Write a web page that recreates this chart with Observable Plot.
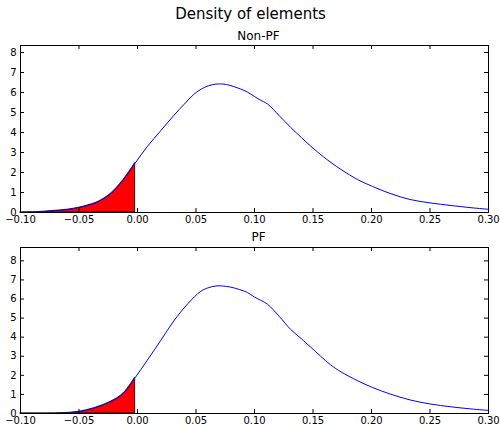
<!DOCTYPE html>
<html>
<head>
<meta charset="utf-8">
<script src="https://cdn.jsdelivr.net/npm/d3@7"></script>
<script src="https://cdn.jsdelivr.net/npm/@observablehq/plot@0.6"></script>
<style>
  html, body { margin: 0; padding: 0; background: white; }
  #wrap { position: relative; width: 501px; height: 426px; font-family: "DejaVu Sans", sans-serif; background: white; }
  .title { position: absolute; left: 0; width: 501px; text-align: center; color: #000; z-index: 5; line-height: 1.2; }
  .panel { position: absolute; left: 0; z-index: 1; }
</style>
</head>
<body>
<div id="wrap">
  <div class="panel" id="p1" style="top:0px;"></div>
  <div class="panel" id="p2" style="top:230px;"></div>
  <div class="title" style="top:5px;font-size:15px;">Density of elements</div>
  <div class="title" style="top:29px;font-size:12px;padding-left:8px;">Non-PF</div>
  <div class="title" style="top:230px;font-size:12px;padding-left:8px;">PF</div>
</div>
<script>
// Non-PF density curve (x, density)
const nonPfX = [-0.100, -0.085, -0.074, -0.060, -0.050, -0.042, -0.034, -0.023, -0.012, -0.002,
  0.008, 0.020, 0.031, 0.040, 0.048, 0.057, 0.064, 0.070, 0.076, 0.082, 0.088, 0.094, 0.100,
  0.105, 0.111, 0.121, 0.131, 0.140, 0.148, 0.159, 0.174, 0.188, 0.201, 0.216, 0.233, 0.250,
  0.268, 0.285, 0.300];
const nonPfY = [0.00, 0.02, 0.07, 0.14, 0.24, 0.36, 0.52, 0.93, 1.63, 2.47,
  3.27, 4.10, 4.85, 5.42, 5.90, 6.25, 6.39, 6.43, 6.40, 6.30, 6.18, 6.02, 5.80,
  5.62, 5.43, 4.85, 4.25, 3.75, 3.32, 2.78, 2.15, 1.65, 1.30, 0.95, 0.65, 0.48,
  0.35, 0.24, 0.16];

// PF density curve (x, density)
const pfX = [-0.100, -0.080, -0.066, -0.050, -0.037, -0.023, -0.012, -0.002,
  0.008, 0.020, 0.031, 0.043, 0.054, 0.061, 0.068, 0.079, 0.087, 0.094, 0.100,
  0.111, 0.121, 0.131, 0.140, 0.148, 0.165, 0.174, 0.188, 0.201, 0.216, 0.233,
  0.250, 0.268, 0.285, 0.300];
const pfY = [0.00, 0.00, 0.01, 0.09, 0.28, 0.61, 1.05, 1.88,
  2.76, 3.84, 4.85, 5.75, 6.40, 6.60, 6.69, 6.63, 6.50, 6.34, 6.10,
  5.73, 5.10, 4.40, 3.92, 3.48, 2.55, 2.18, 1.72, 1.36, 1.02, 0.71,
  0.50, 0.35, 0.24, 0.16];

const xTicks = [-0.10, -0.05, 0.00, 0.05, 0.10, 0.15, 0.20, 0.25, 0.30];
const yTicks = [0, 1, 2, 3, 4, 5, 6, 7, 8];
const yMaxNonPf = 8.35;
const yMaxPf = 8.7;

function panel(xs, ys, yMax, opts) {
  const data = xs.map((x, i) => ({x, y: ys[i]}));
  const neg = data.filter(d => d.x < 0);
  const W = 501;
  const frameW = W - opts.ml - opts.mr;
  const frameH = opts.h - opts.mt - opts.mb;
  const tl = 4;
  return Plot.plot({
    width: W,
    height: opts.h,
    marginLeft: opts.ml,
    marginRight: opts.mr,
    marginTop: opts.mt,
    marginBottom: opts.mb,
    style: {fontFamily: "DejaVu Sans, sans-serif", fontSize: "10px", color: "#000", background: "transparent", overflow: "visible"},
    x: {domain: [-0.10, 0.30]},
    y: {domain: [0, yMax]},
    marks: [
      Plot.areaY(neg, {x: "x", y: "y", fill: "red", stroke: "black", strokeWidth: 0.8, curve: "catmull-rom"}),
      Plot.line(data, {x: "x", y: "y", stroke: "blue", strokeWidth: 1, curve: "catmull-rom"}),
      Plot.tickX(xTicks, {x: d => d, stroke: "black", insetTop: frameH - tl}),
      Plot.tickX(xTicks, {x: d => d, stroke: "black", insetBottom: frameH - tl}),
      Plot.tickY(yTicks, {y: d => d, stroke: "black", insetRight: frameW - tl}),
      Plot.tickY(yTicks, {y: d => d, stroke: "black", insetLeft: frameW - tl}),
      Plot.axisX(xTicks, {tickSize: 0, tickPadding: 3, tickFormat: d3.format(".2f"), label: null, fontSize: 10}),
      Plot.axisY(yTicks, {tickSize: 0, tickPadding: 4, tickFormat: d3.format("d"), label: null, fontSize: 10}),
      Plot.frame({stroke: "black", strokeWidth: 1})
    ]
  });
}

document.getElementById("p1").appendChild(
  panel(nonPfX, nonPfY, yMaxNonPf, {h: 230, ml: 20, mr: 13, mt: 45, mb: 18})
);
document.getElementById("p2").appendChild(
  panel(pfX, pfY, yMaxPf, {h: 196, ml: 20, mr: 13, mt: 17, mb: 13})
);
</script>
</body>
</html>
